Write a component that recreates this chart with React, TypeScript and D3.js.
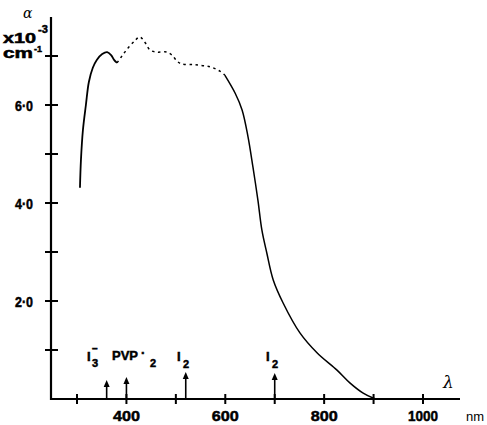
import React from "react";
import * as d3 from "d3";

// Absorption spectrum (alpha x10^-3 cm^-1 vs wavelength nm)
const solid1Nm = [306, 308, 312, 318, 324, 332, 340, 351, 361, 369, 375, 381];
const solid1Val = [4.31, 4.88, 5.49, 6.0, 6.47, 6.76, 6.92, 7.04, 7.08, 7.02, 6.92, 6.86];
const dashedNm = [381, 391, 403, 417, 427, 438, 448, 462, 482, 492, 504, 512, 539, 569, 589, 599];
const dashedVal = [6.86, 7.0, 7.16, 7.31, 7.39, 7.27, 7.12, 7.08, 7.08, 7.02, 6.88, 6.84, 6.82, 6.78, 6.69, 6.61];
const solid2Nm = [599, 620, 634, 646, 656, 666, 674, 684, 697, 717, 751, 786, 826, 852, 879, 899, 905];
const solid2Val = [6.61, 6.24, 5.9, 5.35, 4.73, 4.06, 3.45, 2.98, 2.43, 1.96, 1.35, 0.94, 0.59, 0.33, 0.12, 0.02, 0.0];

const yTicks = [1, 2, 3, 4, 5, 6, 7];
const yLabels = [
  { v: 6, t: "6·0" },
  { v: 4, t: "4·0" },
  { v: 2, t: "2·0" },
];
const xTicks = [300, 400, 500, 600, 700, 800, 900, 1000];
const xLabels = [400, 600, 800, 1000];
const arrowNm = [360, 400, 520, 700];
const arrowTopVal = [0.39, 0.45, 0.55, 0.53]; // arrow tips, in alpha units

export default function App() {
  const x = d3.scaleLinear().domain([300, 1000]).range([77, 423]);
  const y = d3.scaleLinear().domain([0, 7]).range([399, 56]);
  const line = d3
    .line<[number, number]>()
    .x((d) => x(d[0]))
    .y((d) => y(d[1]))
    .curve(d3.curveCatmullRom.alpha(0.5));
  const zip = (a: number[], b: number[]) => a.map((v, i) => [v, b[i]] as [number, number]);
  const axisX0 = 51;
  const y0 = y(0);
  const bold = "'Liberation Sans', Arial, sans-serif";
  const heavy = { fontFamily: bold, fontWeight: "bold" as const, stroke: "#000", strokeWidth: 0.5 };

  return (
    <div style={{ position: "absolute", left: 0, top: 0 }}>
      <svg width={487} height={425} style={{ display: "block", background: "#fff" }}>
        {/* axes */}
        <line x1={axisX0} x2={axisX0} y1={17} y2={y0 + 1} stroke="#000" strokeWidth={2.2} />
        <line x1={axisX0} x2={460} y1={y0} y2={y0} stroke="#000" strokeWidth={2} />
        {yTicks.map((t) => (
          <line key={t} x1={45} x2={58} y1={y(t)} y2={y(t)} stroke="#000" strokeWidth={2} />
        ))}
        {xTicks.map((t) => (
          <line key={t} x1={x(t)} x2={x(t)} y1={y0 - 5} y2={y0 + 5} stroke="#000" strokeWidth={2} />
        ))}
        {yLabels.map((l) => (
          <text key={l.v} x={15} y={y(l.v) + 6} {...heavy} fontSize={15} textLength={18} lengthAdjust="spacingAndGlyphs">
            {l.t}
          </text>
        ))}
        {xLabels.map((t) => (
          <text key={t} x={x(t)} y={421} textAnchor="middle" {...heavy} fontSize={15} textLength={t >= 1000 ? 30 : 27} lengthAdjust="spacingAndGlyphs">
            {t}
          </text>
        ))}
        <text x={466} y={421} fontFamily={bold} fontSize={13}>nm</text>
        <text x={443} y={388} fontFamily="'DejaVu Serif', serif" fontStyle="italic" fontSize={17}>λ</text>
        {/* y header */}
        <text x={23} y={18} fontFamily="'DejaVu Serif', serif" fontStyle="italic" fontSize={14}>α</text>
        <text x={3} y={43} {...heavy} fontSize={14} textLength={33} lengthAdjust="spacingAndGlyphs">x10</text>
        <text x={38} y={33} {...heavy} fontSize={11}>-3</text>
        <text x={3} y={58} {...heavy} fontSize={14} textLength={30} lengthAdjust="spacingAndGlyphs">cm</text>
        <text x={34} y={52} {...heavy} fontSize={9}>-1</text>

        {/* curve */}
        <path d={line(zip(solid1Nm, solid1Val)) || ""} fill="none" stroke="#000" strokeWidth={1.8} />
        <path d={line(zip(dashedNm, dashedVal)) || ""} fill="none" stroke="#000" strokeWidth={1.5} strokeDasharray="2.5,3.5" />
        <path d={line(zip(solid2Nm, solid2Val)) || ""} fill="none" stroke="#000" strokeWidth={1.5} />

        {/* arrows */}
        {arrowNm.map((nm, i) => {
          const ax = x(nm);
          const top = y(arrowTopVal[i]);
          return (
            <g key={nm}>
              <line x1={ax} x2={ax} y1={y0} y2={top + 5} stroke="#000" strokeWidth={1.6} />
              <path d={`M${ax - 3},${top + 7} L${ax},${top} L${ax + 3},${top + 7} Z`} fill="#000" />
            </g>
          );
        })}
        {/* arrow labels */}
        <text {...heavy} fontSize={13}>
          <tspan x={87} y={361}>I</tspan>
          <tspan x={92} y={367} fontSize={11}>3</tspan>
          <tspan x={92} y={352} fontSize={10}>–</tspan>
        </text>
        <text {...heavy} fontSize={13}>
          <tspan x={112} y={360}>PVP</tspan>
          <tspan x={141} y={357}>·</tspan>
          <tspan x={150} y={367} fontSize={11}>2</tspan>
        </text>
        <text {...heavy} fontSize={13}>
          <tspan x={177} y={361}>I</tspan>
          <tspan x={183} y={368} fontSize={11}>2</tspan>
        </text>
        <text {...heavy} fontSize={13}>
          <tspan x={266} y={361}>I</tspan>
          <tspan x={272} y={368} fontSize={11}>2</tspan>
        </text>
      </svg>
    </div>
  );
}
